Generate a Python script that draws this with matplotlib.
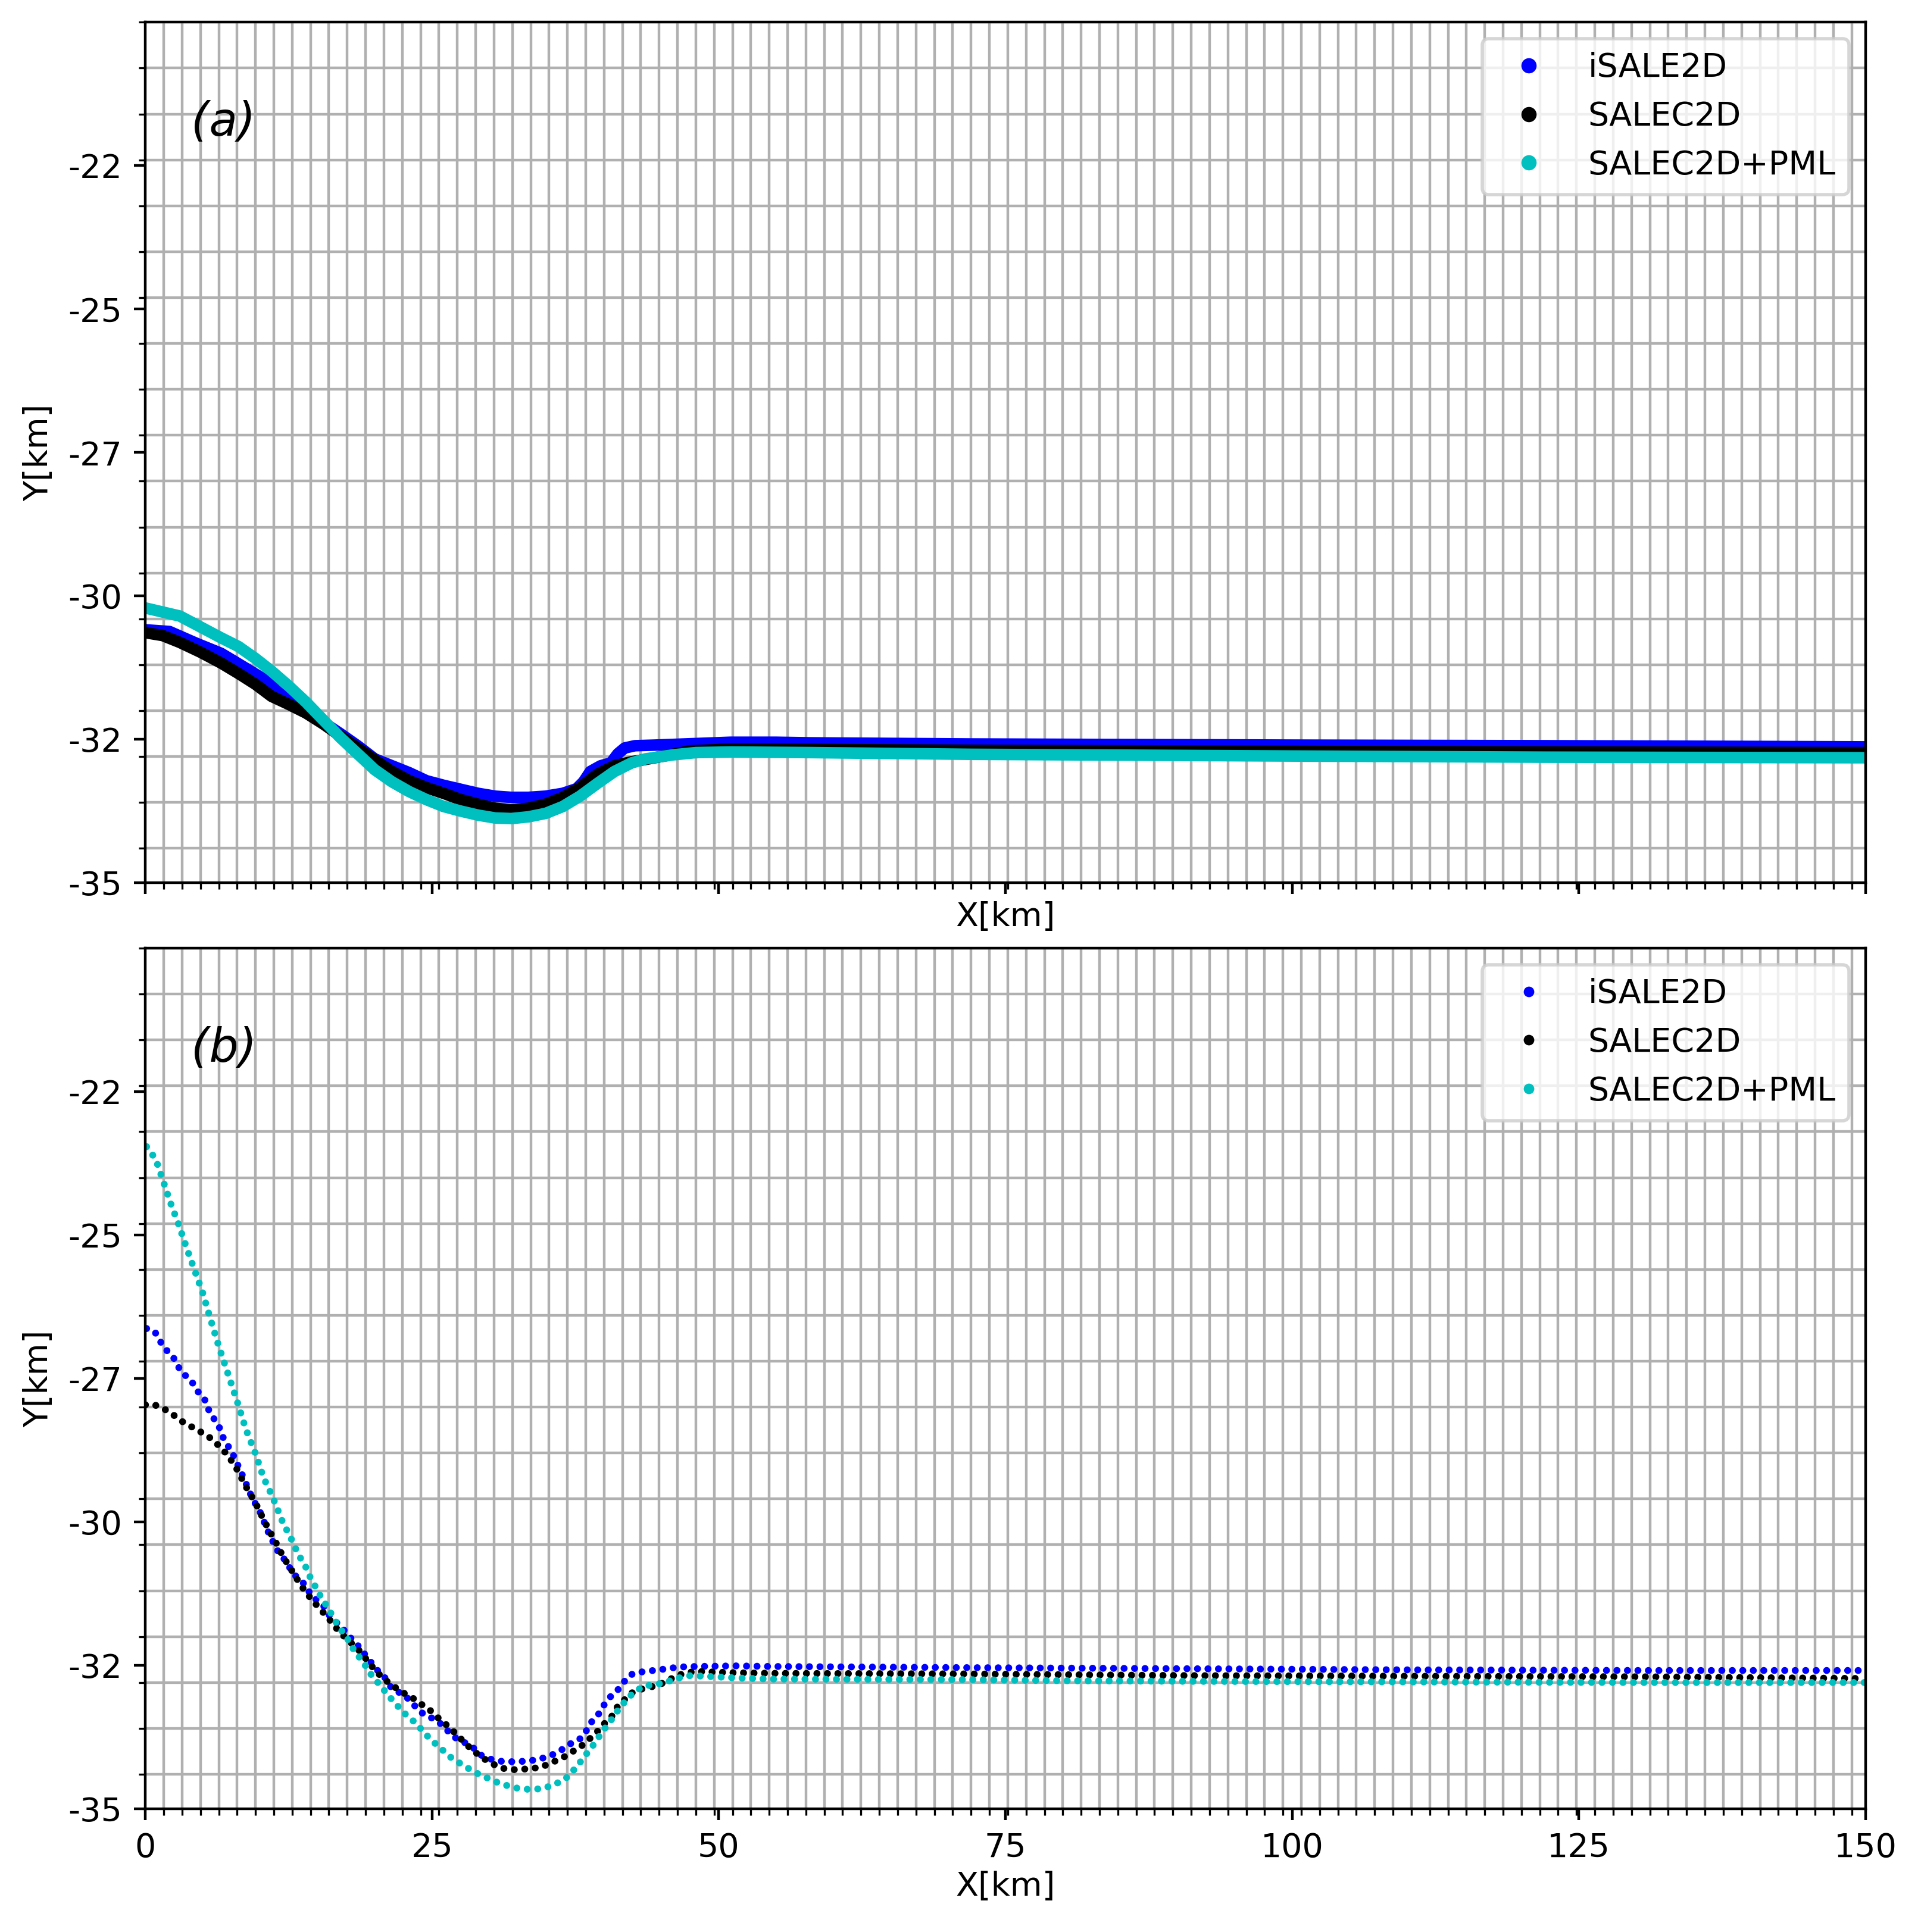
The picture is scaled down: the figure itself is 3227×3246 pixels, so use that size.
from __future__ import annotations

import matplotlib

matplotlib.use("Agg")
import matplotlib.pyplot as plt
import numpy as np
from matplotlib.lines import Line2D
from matplotlib.ticker import FormatStrFormatter, MultipleLocator

# ---- panneau (a) ----
a_isale_x = [0.0, 2.1, 4.5, 6.6, 8.1, 10.5, 11.6, 14.0, 15.5, 17.0, 18.5, 20.0, 21.5, 23.0,
             24.5, 26.0, 27.5, 29.0, 30.5, 31.9, 33.4, 34.9, 36.4, 37.6, 38.2, 38.8, 39.7,
             40.6, 41.2, 41.8, 42.7, 44.4, 47.0, 51.0, 55.0, 58.0, 72.0, 100.0, 122.0, 150.0]
a_isale_y = [-30.59, -30.62, -30.83, -31.00, -31.18, -31.47, -31.68, -32.01, -32.20, -32.40,
             -32.61, -32.84, -32.96, -33.08, -33.22, -33.30, -33.37, -33.44, -33.49, -33.51,
             -33.51, -33.49, -33.44, -33.36, -33.24, -33.06, -32.96, -32.91, -32.75, -32.65,
             -32.61, -32.60, -32.58, -32.55, -32.55, -32.56, -32.58, -32.60, -32.61, -32.63]

a_salec_x = [0.0, 1.5, 3.0, 4.8, 6.6, 8.1, 9.6, 11.0, 12.5, 14.0, 15.5, 17.0, 18.5, 20.0,
             21.5, 23.0, 24.5, 26.0, 27.5, 29.0, 30.5, 31.9, 33.4, 34.9, 36.4, 37.9, 39.4,
             40.9, 42.4, 43.6, 45.5, 47.5, 51.0, 72.0, 100.0, 122.0, 150.0]
a_salec_y = [-30.64, -30.69, -30.81, -30.98, -31.17, -31.35, -31.54, -31.75, -31.89, -32.04,
             -32.23, -32.44, -32.65, -32.86, -33.06, -33.22, -33.34, -33.44, -33.55, -33.63,
             -33.70, -33.73, -33.70, -33.63, -33.51, -33.34, -33.11, -32.96, -32.89, -32.85,
             -32.78, -32.70, -32.67, -32.69, -32.71, -32.72, -32.73]

a_pml_x = [0.0, 3.0, 4.8, 6.6, 8.1, 9.6, 11.0, 12.5, 14.0, 15.5, 17.0, 18.5, 20.0, 21.5,
           23.0, 24.5, 26.0, 27.5, 29.0, 30.5, 31.9, 33.4, 34.9, 36.4, 37.9, 39.4, 40.9,
           42.4, 43.6, 46.0, 48.0, 51.0, 58.0, 72.0, 100.0, 122.0, 150.0]
a_pml_y = [-30.21, -30.35, -30.54, -30.73, -30.88, -31.09, -31.31, -31.57, -31.85, -32.16,
           -32.47, -32.75, -33.03, -33.24, -33.41, -33.55, -33.67, -33.75, -33.82, -33.87,
           -33.88, -33.85, -33.79, -33.67, -33.49, -33.27, -33.06, -32.91, -32.84, -32.77,
           -32.73, -32.72, -32.73, -32.76, -32.79, -32.81, -32.82]

# ---- panneau (b) ----
b_isale_x = [0.1, 0.8, 1.6, 2.4, 3.1, 4.0, 4.5, 5.2, 5.6, 6.4, 6.8, 7.6, 8.4, 9.3, 10.0,
             10.8, 11.6, 12.4, 12.8, 13.6, 14.05, 14.4, 15.6, 16.0, 17.2, 17.7, 18.5, 18.9,
             19.2, 20.45, 20.8, 21.5, 22.2, 22.7, 23.6, 24.0, 24.4, 24.8, 25.6, 26.4, 26.9,
             27.6, 28.5, 29.2, 30.0, 30.8, 31.6, 32.4, 33.2, 34.0, 34.8, 35.6, 36.4, 37.2,
             38.0, 38.4, 38.8, 39.3, 39.6, 40.0, 40.5, 40.9, 41.3, 41.7, 42.1, 42.7, 43.5,
             45.1, 46.5, 48.1, 51.5, 54.5, 71.4, 91.8, 111.0, 131.0, 150.0]
b_isale_y = [-26.63, -26.68, -26.96, -27.12, -27.38, -27.54, -27.71, -27.88, -28.09, -28.33,
             -28.54, -28.81, -29.16, -29.58, -29.83, -30.22, -30.53, -30.72, -30.89, -31.03,
             -31.13, -31.27, -31.48, -31.62, -31.86, -31.98, -32.15, -32.24, -32.33, -32.64,
             -32.69, -32.91, -32.98, -33.04, -33.23, -33.31, -33.37, -33.40, -33.49, -33.65,
             -33.75, -33.82, -33.92, -34.06, -34.13, -34.17, -34.18, -34.18, -34.17, -34.15,
             -34.11, -34.05, -33.96, -33.85, -33.77, -33.66, -33.51, -33.40, -33.33, -33.19,
             -33.06, -32.97, -32.91, -32.80, -32.69, -32.63, -32.61, -32.57, -32.53, -32.52,
             -32.51, -32.52, -32.54, -32.56, -32.58, -32.59, -32.59]

b_salec_x = [0.0, 0.8, 1.7, 2.4, 3.2, 4.0, 4.8, 5.6, 6.4, 7.2, 8.0, 8.75, 9.6, 10.4, 11.2,
             11.6, 12.0, 12.4, 13.2, 13.6, 14.0, 14.4, 15.2, 16.0, 16.8, 17.6, 18.5, 19.2,
             20.0, 20.8, 21.6, 22.4, 23.3, 24.0, 24.8, 25.6, 26.5, 27.3, 28.1, 28.6, 29.3,
             30.1, 31.0, 32.0, 33.0, 34.0, 34.8, 35.6, 36.4, 37.2, 38.0, 38.8, 39.3, 40.0,
             40.5, 40.9, 41.2, 41.7, 42.1, 42.7, 43.5, 44.7, 45.5, 46.5, 47.5, 48.5, 51.5,
             55.0, 71.4, 91.8, 111.0, 131.0, 150.0]
b_salec_y = [-27.96, -27.96, -28.04, -28.13, -28.25, -28.34, -28.43, -28.53, -28.67, -28.84,
             -29.09, -29.38, -29.67, -30.00, -30.30, -30.44, -30.61, -30.73, -30.99, -31.12,
             -31.22, -31.33, -31.51, -31.69, -31.89, -32.05, -32.21, -32.38, -32.58, -32.74,
             -32.86, -32.97, -33.07, -33.17, -33.28, -33.43, -33.58, -33.74, -33.90, -33.99,
             -34.10, -34.20, -34.29, -34.32, -34.31, -34.29, -34.25, -34.18, -34.11, -34.01,
             -33.91, -33.77, -33.68, -33.52, -33.44, -33.32, -33.21, -33.12, -33.02, -32.95,
             -32.90, -32.85, -32.77, -32.67, -32.62, -32.61, -32.63, -32.64, -32.65, -32.68,
             -32.69, -32.70, -32.73]

b_pml_x = [0.1, 0.9, 1.5, 2.15, 2.85, 3.6, 4.3, 5.0, 5.6, 6.4, 7.2, 8.0, 8.75, 9.6, 10.3,
           10.8, 11.2, 11.6, 12.0, 12.4, 12.8, 13.2, 13.6, 14.05, 14.4, 14.8, 15.2, 15.6,
           16.0, 16.4, 16.8, 17.2, 17.6, 18.0, 18.4, 18.8, 19.2, 19.6, 20.0, 20.4, 20.8,
           21.2, 21.6, 22.0, 22.4, 22.8, 23.3, 23.7, 24.4, 24.8, 25.2, 25.6, 26.1, 26.6,
           27.2, 27.8, 28.5, 29.2, 30.0, 30.8, 31.6, 32.4, 33.2, 34.0, 34.8, 35.6, 36.4,
           36.9, 37.3, 37.6, 38.0, 38.4, 38.8, 39.2, 39.6, 40.1, 40.5, 40.9, 41.3, 41.7,
           42.1, 42.5, 43.0, 43.5, 44.3, 45.1, 45.9, 46.7, 47.5, 48.7, 51.5, 54.5, 71.4,
           81.0, 91.8, 111.0, 131.0, 150.0]
b_pml_y = [-23.46, -23.68, -24.03, -24.42, -24.79, -25.23, -25.62, -26.01, -26.42, -26.94,
           -27.42, -27.90, -28.38, -28.81, -29.23, -29.44, -29.62, -29.82, -30.02, -30.17,
           -30.33, -30.51, -30.66, -30.81, -30.98, -31.12, -31.27, -31.40, -31.53, -31.67,
           -31.81, -31.92, -32.03, -32.18, -32.29, -32.40, -32.51, -32.64, -32.74, -32.83,
           -32.93, -33.03, -33.12, -33.21, -33.29, -33.38, -33.46, -33.53, -33.70, -33.77,
           -33.85, -33.92, -34.01, -34.10, -34.18, -34.25, -34.34, -34.41, -34.48, -34.55,
           -34.60, -34.64, -34.66, -34.66, -34.64, -34.58, -34.51, -34.43, -34.34, -34.25,
           -34.17, -34.06, -33.96, -33.85, -33.73, -33.59, -33.49, -33.37, -33.26, -33.16,
           -33.07, -32.99, -32.92, -32.86, -32.84, -32.81, -32.76, -32.71, -32.68, -32.69,
           -32.72, -32.74, -32.75, -32.77, -32.78, -32.79, -32.80, -32.80]

noms = ["iSALE2D", "SALEC2D", "SALEC2D+PML"]
couleurs = ["b", "k", "c"]


def regler_axes(ax, titre: str) -> None:
    ax.set_xlim(0, 150)
    ax.set_ylim(-35, -20)
    ax.xaxis.set_major_locator(MultipleLocator(25))
    ax.xaxis.set_minor_locator(MultipleLocator(1.6))
    ax.set_yticks(np.arange(-35, -21, 2.5))
    ax.yaxis.set_major_formatter(FormatStrFormatter("%d"))
    ax.yaxis.set_minor_locator(MultipleLocator(0.8))
    ax.grid(False, which="major")
    ax.grid(True, which="minor")
    ax.set_xlabel("X[km]", labelpad=2)
    ax.set_ylabel("Y[km]")
    ax.text(4.0, -21.75, titre, fontsize=14, style="italic", va="center", ha="left")


fig, (ax1, ax2) = plt.subplots(2, 1, sharex=True, figsize=(8.0675, 8.115))
fig.subplots_adjust(left=0.0757, right=0.9711, top=0.9885, bottom=0.0638, hspace=0.0759)

series_a = [(a_isale_x, a_isale_y), (a_salec_x, a_salec_y), (a_pml_x, a_pml_y)]
for (x, y), c in zip(series_a, couleurs):
    ax1.plot(x, y, color=c, lw=3.5, solid_capstyle="round", solid_joinstyle="round")
regler_axes(ax1, "(a)")
poignees = [Line2D([], [], color=c, marker="o", linestyle="None", markersize=3.6) for c in couleurs]
ax1.legend(poignees, noms, loc="upper right")

series_b = [(b_isale_x, b_isale_y), (b_salec_x, b_salec_y), (b_pml_x, b_pml_y)]
for (x, y), c in zip(series_b, couleurs):
    ax2.plot(x, y, color=c, lw=2.1, linestyle=(0, (0.01, 1.5)), dash_capstyle="round")
regler_axes(ax2, "(b)")
poignees = [Line2D([], [], color=c, marker="o", linestyle="None", markersize=2.2) for c in couleurs]
ax2.legend(poignees, noms, loc="upper right")

fig.savefig("out.png", dpi=400)
